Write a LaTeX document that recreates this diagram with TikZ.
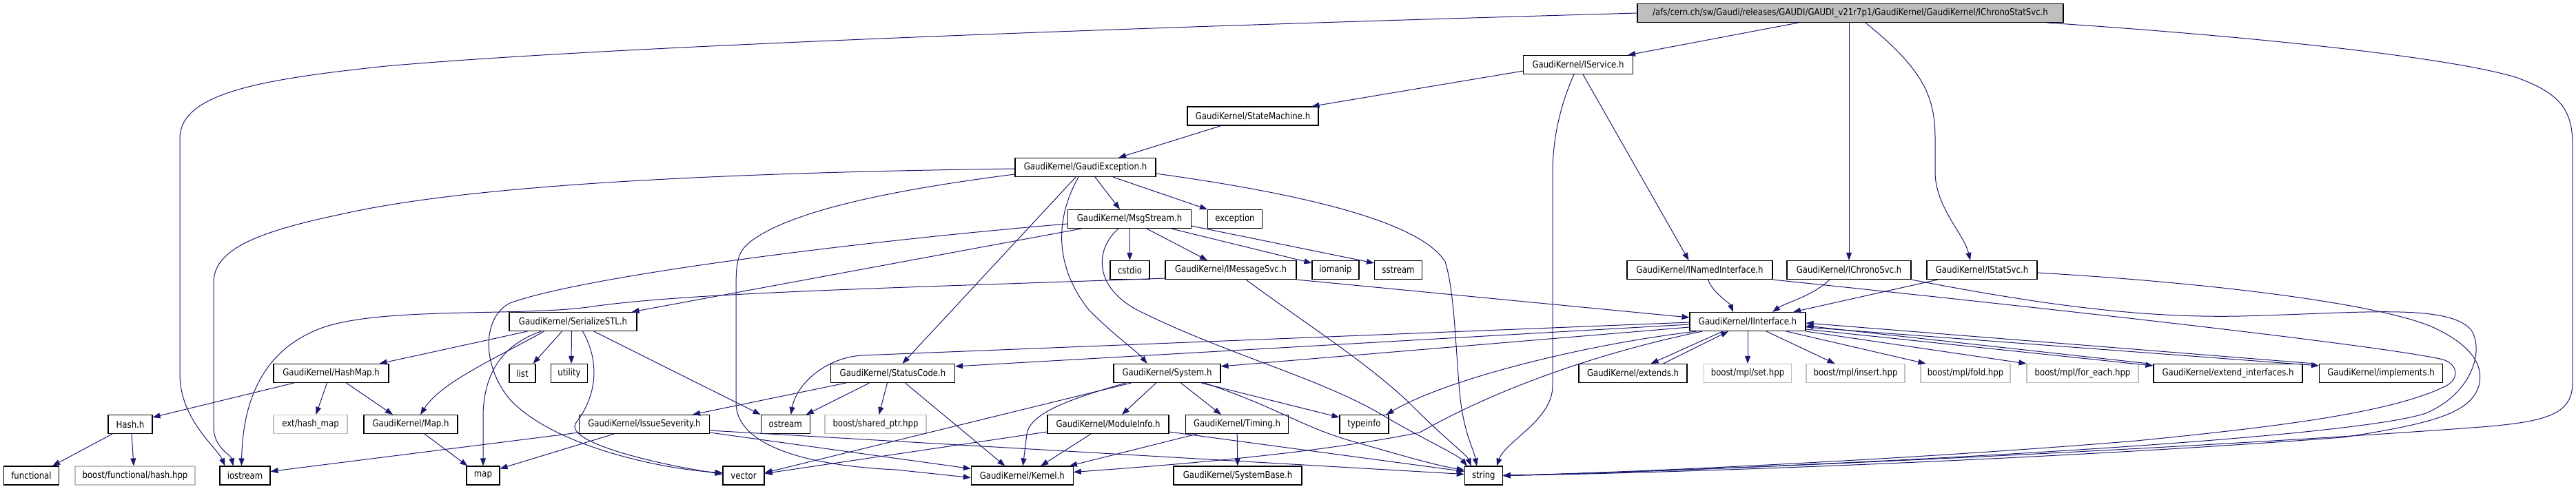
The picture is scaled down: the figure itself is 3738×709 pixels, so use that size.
\documentclass[tikz,border=0pt]{standalone}
\usepackage{fontspec}
\usetikzlibrary{arrows.meta}
\newfontfamily\nf[FakeStretch=0.855]{DejaVu Sans}
\definecolor{edgeblue}{HTML}{191970}
\definecolor{gbox}{HTML}{BFBFBF}
\tikzset{
  box/.style={draw=black, line width=0.55pt, fill=white, minimum height=13.5pt, inner xsep=1pt, inner ysep=0pt, font=\nf\fontsize{6.85pt}{8pt}\selectfont},
  gbx/.style={box, draw=gbox},
  rootbox/.style={box, fill=gbox},
  e/.style={draw=edgeblue, line width=0.5pt, -{Triangle[length=5.5pt,width=4pt]}}
}
\begin{document}
\begin{tikzpicture}[x=0.5pt,y=-0.5pt]
\useasboundingbox (0,0) rectangle (3738,709);
% row 0
\node[rootbox, minimum width=309pt] (root) at (2685,19) {/afs/cern.ch/sw/Gaudi/releases/GAUDI/GAUDI\_v21r7p1/GaudiKernel/GaudiKernel/IChronoStatSvc.h};
% row 1
\node[box, minimum width=79.5pt] (isvc) at (2290,94) {GaudiKernel/IService.h};
% row 2
\node[box, minimum width=95pt] (sm) at (1818,168.5) {GaudiKernel/StateMachine.h};
% row 3
\node[box, minimum width=102pt] (gex) at (1575,243) {GaudiKernel/GaudiException.h};
% row 4
\node[box, minimum width=89.5pt] (msg) at (1639,318) {GaudiKernel/MsgStream.h};
\node[box, minimum width=39.5pt] (exc) at (1792,318) {exception};
% row 5
\node[box, minimum width=28.5pt] (cstdio) at (1639.5,392) {cstdio};
\node[box, minimum width=95pt] (imsg) at (1786,392) {GaudiKernel/IMessageSvc.h};
\node[box, minimum width=34pt] (iomanip) at (1938,392) {iomanip};
\node[box, minimum width=34.5pt] (sstream) at (2029,392) {sstream};
\node[box, minimum width=105.5pt] (inamed) at (2466.5,392) {GaudiKernel/INamedInterface.h};
\node[box, minimum width=90pt] (ichrono) at (2683,392) {GaudiKernel/IChronoSvc.h};
\node[box, minimum width=80pt] (istat) at (2876,392) {GaudiKernel/IStatSvc.h};
% row 6
\node[box, minimum width=92.5pt] (ser) at (831.5,467) {GaudiKernel/SerializeSTL.h};
\node[box, minimum width=84pt] (iint) at (2536,467) {GaudiKernel/IInterface.h};
% row 7
\node[box, minimum width=83.5pt] (hashmap) at (480.5,542) {GaudiKernel/HashMap.h};
\node[box, minimum width=19pt] (list) at (758,542) {list};
\node[box, minimum width=26.5pt] (utility) at (826,542) {utility};
\node[box, minimum width=90pt] (sc) at (1295.5,542) {GaudiKernel/StatusCode.h};
\node[box, minimum width=77.5pt] (sys) at (1693.5,542) {GaudiKernel/System.h};
\node[box, minimum width=78.5pt] (ext) at (2369.5,542) {GaudiKernel/extends.h};
\node[gbx, minimum width=63.5pt] (set) at (2536,542) {boost/mpl/set.hpp};
\node[gbx, minimum width=71.5pt] (insert) at (2692.5,542) {boost/mpl/insert.hpp};
\node[gbx, minimum width=65pt] (fold) at (2852,542) {boost/mpl/fold.hpp};
\node[gbx, minimum width=81pt] (foreach) at (3022,542) {boost/mpl/for\_each.hpp};
\node[box, minimum width=108pt] (extif) at (3233,542) {GaudiKernel/extend\_interfaces.h};
\node[box, minimum width=89.5pt] (impl) at (3455,542) {GaudiKernel/implements.h};
% row 8
\node[box, minimum width=32pt] (hash) at (189,616) {Hash.h};
\node[gbx, minimum width=53.5pt] (exthm) at (450.5,616) {ext/hash\_map};
\node[box, minimum width=68pt] (mapH) at (596,616) {GaudiKernel/Map.h};
\node[box, minimum width=94.5pt] (issue) at (935,616) {GaudiKernel/IssueSeverity.h};
\node[box, minimum width=35.5pt] (ostream) at (1139.7,616) {ostream};
\node[gbx, minimum width=73.5pt] (shptr) at (1270.5,616) {boost/shared\_ptr.hpp};
\node[box, minimum width=88pt] (modinfo) at (1608,616) {GaudiKernel/ModuleInfo.h};
\node[box, minimum width=74.5pt] (timing) at (1795,616) {GaudiKernel/Timing.h};
\node[box, minimum width=35.5pt] (typeinfo) at (1979.5,616) {typeinfo};
% row 9
\node[box, minimum width=40pt] (functional) at (45.5,690.5) {functional};
\node[gbx, minimum width=87pt] (bfh) at (196,690.5) {boost/functional/hash.hpp};
\node[box, minimum width=36.5pt] (iostream) at (355.5,690.5) {iostream};
\node[box, minimum width=24pt] (map) at (701,690.5) {map};
\node[box, minimum width=30pt] (vector) at (1079,690.5) {vector};
\node[box, minimum width=74pt] (kernel) at (1483.3,690.5) {GaudiKernel/Kernel.h};
\node[box, minimum width=93pt] (sysbase) at (1796,690.5) {GaudiKernel/SystemBase.h};
\node[box, minimum width=27.5pt] (string) at (2152.8,690.5) {string};

% ---- edges from root
\draw[e] (root.west) .. controls (1700,38) and (900,66) .. (560,96) .. controls (380,115) and (262,135) .. (261,200) -- (261,545) .. controls (262,610) and (315,650) .. ([xshift=4pt]iostream.north west);
\draw[e] ([xshift=117pt]root.south west) -- ([xshift=-4pt]isvc.north east);
\draw[e] (ichrono.north |- root.south) -- (ichrono.north);
\draw[e] ([xshift=11pt]root.south) .. controls (2790,100) and (2808,140) .. (2808,200) -- (2808,250) .. controls (2808,300) and (2850,340) .. ([xshift=-8.5pt]istat.north);
\draw[e] ([xshift=-12pt]root.south east) .. controls (3300,55) and (3560,85) .. (3650,112) .. controls (3715,135) and (3733,160) .. (3733,210) -- (3733,555) .. controls (3733,600) and (3700,612) .. (3600,620) .. controls (3200,650) and (2500,683) .. (string.east);
% ---- IService
\draw[e] ([yshift=2.5pt]isvc.south west) -- ([xshift=-5pt]sm.north east);
\draw[e] ([xshift=3.5pt]isvc.south) -- ([xshift=-8pt]inamed.north);
\draw[e] ([xshift=-3pt]isvc.south) .. controls (2265,150) and (2253,200) .. (2253,250) -- (2253,560) .. controls (2253,610) and (2185,640) .. ([xshift=9.5pt]string.north);
% ---- StateMachine
\draw[e] ([xshift=-23pt]sm.south) -- ([xshift=24pt]gex.north);
% ---- GaudiException
\draw[e] ([yshift=-1pt]gex.west) .. controls (1100,250) and (700,265) .. (500,310) .. controls (380,335) and (310,360) .. (310,410) -- (310,620) .. controls (310,650) and (335,660) .. ([xshift=10pt]iostream.north west);
\draw[e] ([xshift=7pt]gex.south) -- ([xshift=-7pt]msg.north);
\draw[e] ([xshift=20pt]gex.south) -- (exc.north west);
\draw[e] ([yshift=-4.5pt]gex.east) .. controls (1880,280) and (2060,320) .. (2097,380) .. controls (2110,420) and (2112,500) .. (2118,570) .. controls (2124,630) and (2138,650) .. ([xshift=-5pt]string.north);
\draw[e] ([xshift=-7pt]gex.south) -- ([xshift=7pt]sc.north);
\draw[e] ([xshift=-5pt]gex.south) .. controls (1535,310) and (1525,380) .. (1580,450) .. controls (1620,490) and (1650,510) .. ([xshift=-14.5pt]sys.north);
\draw[e] ([yshift=-5pt]gex.west) .. controls (1300,275) and (1150,305) .. (1090,350) .. controls (1070,365) and (1068,380) .. (1068,420) -- (1068,585) .. controls (1068,640) and (1150,675) .. (1300,682) -- ([yshift=-1.5pt]kernel.west);
% ---- MsgStream
\draw[e] ([xshift=-35pt]msg.south) -- ([xshift=-4pt]ser.north east);
\draw[e] (msg) -- (cstdio);
\draw[e] ([xshift=12.5pt]msg.south) -- ([xshift=-17pt]imsg.north);
\draw[e] ([xshift=30.5pt]msg.south) -- ([yshift=-2pt]iomanip.north west);
\draw[e] ([yshift=2pt]msg.south east) -- ([yshift=-2pt]sstream.north west);
\draw[e] ([xshift=-8pt]msg.south) .. controls (1590,360) and (1585,415) .. (1650,450) .. controls (1780,515) and (1920,550) .. (2010,605) .. controls (2070,640) and (2115,660) .. ([xshift=-12pt]string.north);
\draw[e] ([yshift=-3.5pt]msg.west) .. controls (1250,350) and (850,400) .. (740,440) .. controls (700,460) and (698,530) .. (740,580) .. controls (800,645) and (950,680) .. ([yshift=2pt]vector.west);
% ---- IMessageSvc
\draw[e] ([yshift=1pt]imsg.south west) .. controls (1300,418) and (1000,425) .. (860,445) .. controls (760,460) and (560,445) .. (470,475) .. controls (370,510) and (352,600) .. ([xshift=16pt]iostream.north west);
\draw[e] (imsg.south east) -- ([yshift=3pt]iint.west);
\draw[e] ([xshift=11pt]imsg.south) .. controls (1880,460) and (1990,530) .. (2050,590) .. controls (2100,640) and (2128,660) .. ([xshift=-9pt]string.north);
% ---- INamedInterface, IChronoSvc, IStatSvc
\draw[e] ([xshift=6pt]inamed.south) .. controls (2485,425) and (2510,440) .. ([xshift=-10.5pt]iint.north);
\draw[e] (inamed.south east) .. controls (2900,440) and (3450,500) .. (3545,522) .. controls (3568,530) and (3568,550) .. (3550,560) .. controls (3470,600) and (3300,620) .. (3100,640) .. controls (2800,665) and (2400,685) .. (string.east);
\draw[e] ([xshift=-14pt]ichrono.south) .. controls (2630,430) and (2590,440) .. ([xshift=18pt]iint.north);
\draw[e] (ichrono.south east) .. controls (2950,440) and (3100,462) .. (3250,459) .. controls (3420,455) and (3550,440) .. (3585,478) .. controls (3605,505) and (3590,570) .. (3520,600) .. controls (3400,640) and (2600,680) .. (string.east);
\draw[e] ([xshift=-32pt]istat.south) -- ([xshift=33pt]iint.north);
\draw[e] ([yshift=-2pt]istat.east) .. controls (3200,410) and (3450,440) .. (3530,475) .. controls (3585,500) and (3605,530) .. (3597,560) .. controls (3585,600) and (3530,615) .. (3400,635) .. controls (3000,665) and (2500,685) .. (string.east);
% ---- SerializeSTL
\draw[e] ([xshift=-33pt]ser.south) -- ([xshift=-7pt]hashmap.north east);
\draw[e] ([xshift=-21pt]ser.south) .. controls (720,520) and (640,555) .. ([xshift=7pt]mapH.north);
\draw[e] ([xshift=-23pt]ser.south) .. controls (730,500) and (703,540) .. (701,600) -- (map.north);
\draw[e] ([xshift=-8pt]ser.south) -- ([xshift=-2pt]list.north east);
\draw[e] ([xshift=-1pt]ser.south) -- ([xshift=1.5pt]utility.north);
\draw[e] ([xshift=7pt]ser.south) .. controls (868,520) and (870,570) .. (835,615) .. controls (822,640) and (930,670) .. ([yshift=1pt]vector.west);
\draw[e] ([xshift=15pt]ser.south) -- (ostream.north west);
% ---- IInterface
\draw[e] ([xshift=-33pt]iint.south) .. controls (2330,510) and (2180,560) .. (2060,628) .. controls (1900,660) and (1700,675) .. ([yshift=2.5pt]kernel.east);
\draw[e] ([yshift=-4pt]iint.west) -- ([yshift=-2pt]sys.north east);
\draw[e] ([yshift=-2pt]iint.west) -- ([yshift=-2pt]sc.north east);
\draw[e] ([yshift=-0.5pt]iint.west) -- (1250,516) .. controls (1195,520) and (1155,560) .. ([xshift=4pt]ostream.north);
\draw[e] ([xshift=-37pt]iint.south) .. controls (2300,500) and (2100,550) .. ([xshift=-2pt]typeinfo.north east);
\draw[e] ([xshift=-18pt]iint.south) -- ([xshift=13pt]ext.north);
\draw[e] ([xshift=22pt]ext.north) -- ([xshift=-14pt]iint.south);
\draw[e] (iint) -- (set);
\draw[e] ([xshift=13.5pt]iint.south) -- ([xshift=-15pt]insert.north);
\draw[e] ([xshift=28pt]iint.south) -- ([xshift=4pt]fold.north west);
\draw[e] (iint.south east) -- (foreach.north west);
\draw[e] ([yshift=-5.5pt]iint.east) -- ([yshift=-1.5pt]extif.north west);
\draw[e] ([xshift=-3pt]extif.north west) -- ([yshift=-3pt]iint.east);
\draw[e] ([yshift=-4pt]iint.east) -- ([yshift=-1.5pt]impl.north west);
\draw[e] ([xshift=-3pt]impl.north west) -- ([yshift=-1pt]iint.east);
% ---- HashMap, Hash, Map
\draw[e] ([xshift=-27pt]hashmap.south) -- ([yshift=-2pt]hash.north east);
\draw[e] ([xshift=-3pt]hashmap.south) -- ([xshift=4pt]exthm.north);
\draw[e] ([xshift=11pt]hashmap.south) -- ([xshift=-13pt]mapH.north);
\draw[e] ([xshift=-13pt]hash.south) -- ([xshift=-5pt]functional.north east);
\draw[e] ([xshift=1pt]hash.south) -- ([xshift=-1pt]bfh.north);
\draw[e] ([xshift=10pt]mapH.south) -- ([xshift=1pt]map.north west);
% ---- StatusCode
\draw[e] ([xshift=-34pt]sc.south) -- ([xshift=35pt]issue.north);
\draw[e] ([xshift=-17pt]sc.south) -- ([xshift=15pt]ostream.north);
\draw[e] ([xshift=-4pt]sc.south) -- ([xshift=2.5pt]shptr.north);
\draw[e] ([xshift=9pt]sc.south) -- ([xshift=-12.5pt]kernel.north);
% ---- IssueSeverity
\draw[e] ([yshift=-6pt]issue.west) -- ([yshift=3pt]iostream.east);
\draw[e] ([xshift=-22pt]issue.south) -- ([yshift=-2pt]map.north east);
\draw[e] ([yshift=-4.5pt]issue.east) -- ([yshift=1pt]string.west);
\draw[e] ([yshift=-6pt]issue.east) -- ([yshift=5pt]kernel.west);
% ---- System
\draw[e] ([xshift=-8pt]sys.south) -- ([xshift=10pt]modinfo.north);
\draw[e] ([xshift=10pt]sys.south) -- ([xshift=-11.5pt]timing.north);
\draw[e] ([xshift=25pt]sys.south) -- ([yshift=-2pt]typeinfo.north west);
\draw[e] ([xshift=27pt]sys.south) .. controls (1850,590) and (1890,620) .. (1960,640) .. controls (2030,660) and (2080,675) .. ([yshift=4pt]string.west);
\draw[e] ([xshift=-30pt]sys.south) .. controls (1550,580) and (1495,600) .. (1490,630) -- ([xshift=0.5pt]kernel.north);
\draw[e] ([xshift=-26pt]sys.south) -- ([yshift=2pt]vector.east);
% ---- ModuleInfo, Timing
\draw[e] ([xshift=-12.5pt]modinfo.south) -- ([xshift=13.5pt]kernel.north);
\draw[e] ([yshift=-5.5pt]modinfo.east) -- ([yshift=3pt]string.west);
\draw[e] ([yshift=-5.5pt]modinfo.west) -- ([yshift=1.5pt]vector.east);
\draw[e] (timing) -- (sysbase);
\draw[e] ([xshift=-29pt]timing.south) -- ([xshift=-3pt]kernel.north east);
\end{tikzpicture}
\end{document}
